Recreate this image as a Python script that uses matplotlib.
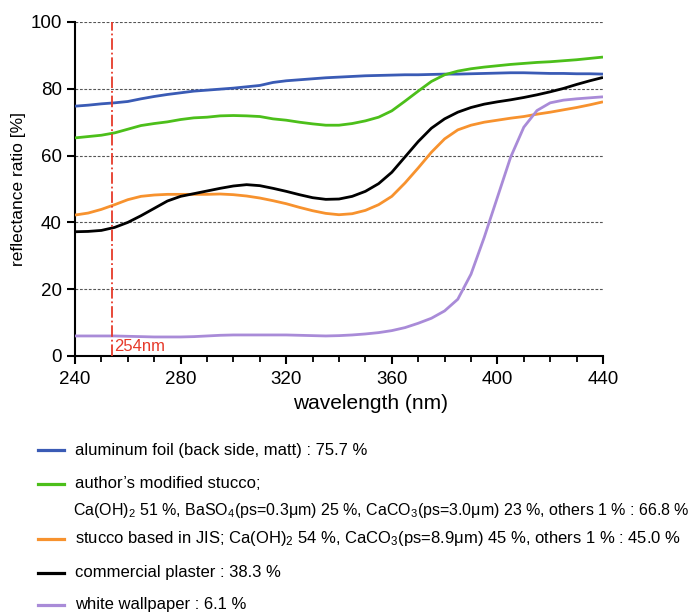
import numpy as np
import matplotlib
matplotlib.use("Agg")
import matplotlib.pyplot as plt
from matplotlib.lines import Line2D

plt.rcParams['font.family'] = ['Liberation Sans', 'DejaVu Sans']
plt.rcParams['mathtext.fontset'] = 'custom'
plt.rcParams['mathtext.rm'] = 'Liberation Sans'
plt.rcParams['mathtext.it'] = 'Liberation Sans'

# wavelength grid (nm)
wavelength = list(range(240, 445, 5))

aluminum = [74.8, 75.1, 75.5, 75.8, 76.2, 77.0, 77.7, 78.3, 78.8, 79.3, 79.6, 79.9, 80.2, 80.6,
            81.0, 81.9, 82.4, 82.7, 83.0, 83.3, 83.5, 83.7, 83.9, 84.0, 84.1, 84.2, 84.2, 84.3,
            84.4, 84.4, 84.5, 84.6, 84.7, 84.8, 84.8, 84.7, 84.6, 84.6, 84.5, 84.5, 84.4]
modified = [65.3, 65.7, 66.1, 66.8, 67.9, 69.0, 69.6, 70.1, 70.8, 71.3, 71.5, 71.9, 72.0, 71.9,
            71.7, 71.0, 70.6, 70.0, 69.5, 69.1, 69.1, 69.6, 70.4, 71.5, 73.4, 76.3, 79.3, 82.2,
            84.2, 85.3, 86.0, 86.5, 86.9, 87.3, 87.6, 87.9, 88.1, 88.4, 88.7, 89.1, 89.5]
jis = [42.2, 42.8, 43.9, 45.3, 46.8, 47.8, 48.2, 48.4, 48.4, 48.4, 48.4, 48.5, 48.3, 47.9,
       47.3, 46.5, 45.6, 44.5, 43.5, 42.7, 42.3, 42.6, 43.6, 45.3, 47.8, 51.8, 56.3, 61.0,
       65.0, 67.7, 69.1, 70.0, 70.6, 71.2, 71.7, 72.4, 73.0, 73.7, 74.4, 75.2, 76.1]
plaster = [37.2, 37.3, 37.6, 38.5, 40.0, 42.0, 44.2, 46.4, 47.8, 48.6, 49.4, 50.2, 50.9, 51.3,
           51.0, 50.2, 49.3, 48.3, 47.4, 46.9, 47.0, 47.8, 49.3, 51.6, 55.0, 59.6, 64.2, 68.2,
           71.0, 73.0, 74.4, 75.4, 76.1, 76.7, 77.4, 78.2, 79.1, 80.1, 81.3, 82.4, 83.4]
wallpaper = [6.0, 6.0, 6.0, 6.0, 5.9, 5.8, 5.7, 5.7, 5.7, 5.8, 6.0, 6.2, 6.3, 6.3,
             6.3, 6.3, 6.3, 6.2, 6.1, 6.0, 6.1, 6.3, 6.6, 7.0, 7.6, 8.5, 9.8, 11.3,
             13.5, 17.0, 24.5, 35.5, 47.5, 59.5, 68.5, 73.5, 75.8, 76.6, 77.0, 77.3, 77.6]

series = [aluminum, modified, jis, plaster, wallpaper]
colors = ['#3a5bb5', '#4cbf1a', '#f7922e', '#000000', '#a98bd8']
uv_line = 254

fig = plt.figure(figsize=(6.94, 6.15), dpi=100)
ax = fig.add_axes([75 / 694, 1 - 356 / 615, 528 / 694, 334 / 615])

for vals, c in zip(series, colors):
    ax.plot(wavelength, vals, color=c, lw=2.0, solid_capstyle='butt', zorder=3)

for y in [20, 40, 60, 80, 100]:
    ax.axhline(y, color='#555555', lw=0.8, ls=(0, (2.5, 1.5)), zorder=1)

ax.plot([uv_line, uv_line], [0, 100], color='#e63a2a', lw=1.3, ls='-.', zorder=4)
ax.text(uv_line + 0.8, 0.6, '254nm', color='#e63a2a', fontsize=12, va='bottom', ha='left')

ax.set_xlim(240, 440)
ax.set_ylim(0, 100)
ax.set_xticks(range(240, 441, 40))
ax.set_xticks(range(240, 441, 10), minor=True)
ax.set_yticks(range(0, 101, 20))
for s in ['top', 'right']:
    ax.spines[s].set_visible(False)
for s in ['left', 'bottom']:
    ax.spines[s].set_linewidth(1.5)
ax.tick_params(axis='both', which='major', length=6, width=1.5, labelsize=13.5, direction='out')
ax.tick_params(axis='x', which='major', pad=5)
ax.tick_params(axis='x', which='minor', length=4, width=1.3)
ax.set_xlabel('wavelength (nm)', fontsize=15)
ax.xaxis.set_label_coords(0.56, -0.113)
ax.set_ylabel('reflectance ratio [%]', fontsize=12.5, labelpad=3)

# legend drawn by hand as lines + text
legend_rows = [
    (450, 'aluminum foil (back side, matt) : 75.7 %'),
    (484, 'author\u2019s modified stucco;'),
    (539, r'stucco based in JIS; Ca(OH)$_2$ 54 %, CaCO$_3$(ps=8.9μm) 45 %, others 1 % : 45.0 %'),
    (573, 'commercial plaster : 38.3 %'),
    (605, 'white wallpaper : 6.1 %'),
]
for (ypx, label), c in zip(legend_rows, colors):
    yf = 1 - ypx / 615
    fig.add_artist(Line2D([38 / 694, 64 / 694], [yf, yf], color=c, lw=2.3))
    fig.text(75 / 694, yf, label, fontsize=12, va='center', ha='left')
fig.text(73 / 694, 1 - 510 / 615,
         r'Ca(OH)$_2$ 51 %, BaSO$_4$(ps=0.3μm) 25 %, CaCO$_3$(ps=3.0μm) 23 %, others 1 % : 66.8 %',
         fontsize=11.5, va='center', ha='left')

fig.savefig('out.png', dpi=100)
